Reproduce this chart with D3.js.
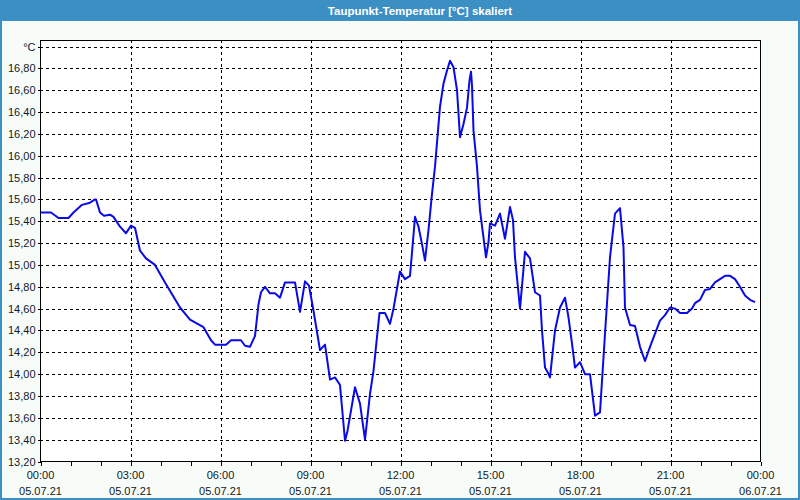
<!DOCTYPE html>
<html><head><meta charset="utf-8">
<script src="https://cdn.jsdelivr.net/npm/d3@7"></script>
<style>
html,body{margin:0;padding:0;background:#f8fcf8;}
svg{display:block;font-family:"Liberation Sans",Arial,sans-serif;}
</style></head>
<body>
<svg id="chart" width="800" height="500"></svg>
<script>
const title = "Taupunkt-Temperatur [°C] skaliert";
const unitLabel = "°C";
const times = ["00:00","00:21","00:36","00:56","01:06","01:23","01:39","01:49","01:51","01:59","02:07","02:19","02:26","02:39","02:51","03:01","03:09","03:19","03:31","03:49","04:09","04:39","04:59","05:26","05:41","05:49","06:11","06:21","06:41","06:49","06:59","07:09","07:16","07:21","07:29","07:39","07:49","07:59","08:09","08:29","08:39","08:49","08:57","09:06","09:19","09:29","09:39","09:49","09:59","10:09","10:14","10:29","10:39","10:49","10:59","11:06","11:18","11:29","11:39","11:46","11:59","12:09","12:19","12:25","12:29","12:36","12:43","12:49","12:56","13:03","13:09","13:19","13:26","13:33","13:39","13:46","13:53","13:59","14:06","14:13","14:18","14:21","14:23","14:26","14:33","14:39","14:46","14:51","14:56","14:59","15:09","15:19","15:29","15:39","15:45","15:49","15:59","16:09","16:19","16:29","16:39","16:43","16:49","16:54","16:59","17:09","17:19","17:29","17:36","17:43","17:49","17:59","18:09","18:19","18:29","18:39","18:49","18:59","19:09","19:19","19:26","19:29","19:39","19:49","19:59","20:09","20:19","20:29","20:39","20:49","20:59","21:09","21:19","21:33","21:43","21:49","21:59","22:09","22:19","22:29","22:39","22:49","22:59","23:09","23:19","23:29","23:39","23:49"];
const values = [15.48,15.48,15.43,15.43,15.48,15.55,15.57,15.60,15.60,15.48,15.45,15.46,15.44,15.35,15.29,15.36,15.34,15.13,15.06,15.00,14.84,14.61,14.50,14.43,14.31,14.27,14.27,14.31,14.31,14.26,14.25,14.35,14.64,14.75,14.80,14.74,14.74,14.70,14.84,14.84,14.57,14.85,14.81,14.58,14.22,14.27,13.95,13.97,13.90,13.39,13.48,13.88,13.73,13.40,13.82,14.03,14.56,14.56,14.46,14.60,14.94,14.87,14.90,15.22,15.44,15.35,15.19,15.04,15.32,15.65,15.90,16.45,16.66,16.78,16.87,16.81,16.60,16.17,16.29,16.44,16.69,16.77,16.64,16.23,15.90,15.50,15.25,15.07,15.21,15.38,15.36,15.47,15.24,15.53,15.41,15.07,14.60,15.12,15.06,14.75,14.72,14.40,14.06,14.02,13.97,14.40,14.61,14.70,14.52,14.28,14.06,14.11,14.00,14.00,13.62,13.65,14.37,15.07,15.47,15.52,15.16,14.61,14.45,14.44,14.25,14.12,14.25,14.37,14.49,14.54,14.61,14.60,14.56,14.56,14.60,14.65,14.68,14.77,14.78,14.84,14.87,14.90,14.90,14.87,14.80,14.72,14.68,14.66];
const yTicks = [13.2,13.4,13.6,13.8,14.0,14.2,14.4,14.6,14.8,15.0,15.2,15.4,15.6,15.8,16.0,16.2,16.4,16.6,16.8,17.0];
const xTickHours = [0,3,6,9,12,15,18,21,24];
const xTickTimes = ["00:00","03:00","06:00","09:00","12:00","15:00","18:00","21:00","00:00"];
const xTickDates = ["05.07.21","05.07.21","05.07.21","05.07.21","05.07.21","05.07.21","05.07.21","05.07.21","06.07.21"];

(function(){
const svg = d3.select("#chart");
const W = 800, H = 500;
const pL = 40, pR = 760, pT = 40, pB = 461;

// outer frame and title bar
svg.append("rect").attr("x",0).attr("y",0).attr("width",W).attr("height",H).attr("fill","#3b8fc3");
svg.append("rect").attr("x",2).attr("y",21).attr("width",W-4).attr("height",H-23).attr("fill","#f8fcf8");
svg.append("text").attr("x",420).attr("y",15).attr("text-anchor","middle")
  .attr("fill","#ffffff").attr("font-weight","bold").attr("font-size","11.5px").text(title);

const toHours = t => { const [h,m] = t.split(":").map(Number); return h + m/60; };
const x = d3.scaleLinear().domain([0,24]).range([pL+0.5, pR+0.5]);
const y = d3.scaleLinear().domain([13.2,17.0]).range([pB+0.5, 46.5]);

svg.append("rect").attr("x",pL+0.5).attr("y",pT+0.5).attr("width",pR-pL).attr("height",pB-pT)
  .attr("fill","#ffffff").attr("stroke","none");

const g = svg.append("g");
g.selectAll(".hg").data(yTicks.slice(1)).join("line")
  .attr("x1",pL).attr("x2",pR).attr("y1",d=>Math.round(y(d))+0.5).attr("y2",d=>Math.round(y(d))+0.5)
  .attr("stroke","#000").attr("stroke-width",1).attr("stroke-dasharray","3,3");
g.selectAll(".vg").data(xTickHours.slice(1,-1)).join("line")
  .attr("x1",d=>Math.round(x(d))+0.5).attr("x2",d=>Math.round(x(d))+0.5).attr("y1",pT).attr("y2",pB)
  .attr("stroke","#000").attr("stroke-width",1).attr("stroke-dasharray","3,3");

svg.append("rect").attr("x",pL+0.5).attr("y",pT+0.5).attr("width",pR-pL).attr("height",pB-pT)
  .attr("fill","none").attr("stroke","#000").attr("stroke-width",1);

const xAxis = d3.axisBottom(x).tickValues(d3.range(0,25,1)).tickSize(4).tickFormat("");
const xa = svg.append("g").attr("transform",`translate(0,${pB+0.5})`).call(xAxis);
xa.select(".domain").remove();
xa.selectAll("line").attr("stroke","#000").attr("shape-rendering","crispEdges");

const xl = svg.append("g").attr("font-size","11px").attr("fill","#101828").attr("text-anchor","middle");
xl.selectAll(".t").data(xTickHours).join("text").attr("class","t").attr("x",d=>x(d)).attr("y",479).text((d,i)=>xTickTimes[i]);
xl.selectAll(".d").data(xTickHours).join("text").attr("class","d").attr("x",d=>x(d)).attr("y",495).text((d,i)=>xTickDates[i]);

const fmt = v => v.toFixed(2).replace(".",",");
const yAxis = d3.axisLeft(y).tickValues(yTicks).tickSize(3)
  .tickFormat(d => d === 17.0 ? unitLabel : fmt(d)).tickPadding(2);
const ya = svg.append("g").attr("transform",`translate(${pL+0.5},0)`).call(yAxis);
ya.select(".domain").remove();
ya.selectAll("line").attr("stroke","#000").attr("shape-rendering","crispEdges");
ya.selectAll("text").attr("font-size","11px").attr("fill","#101828")
  .attr("font-family","'Liberation Sans',Arial,sans-serif");

const data = times.map((t,i)=>({h:toHours(t), v:values[i]}));
const line = d3.line().x(d=>x(d.h)).y(d=>y(d.v));
svg.append("path").datum(data).attr("d",line).attr("fill","none")
  .attr("stroke","#0a0ae6").attr("stroke-width",2).attr("stroke-linejoin","round");
})();
</script>
</body></html>
